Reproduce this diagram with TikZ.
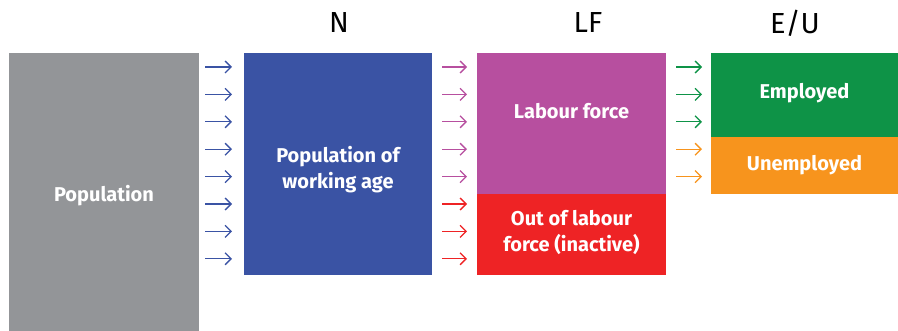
\documentclass[tikz,border=0pt]{standalone}
\usepackage{fontspec}
\setmainfont{Fira Sans}
\usetikzlibrary{arrows.meta}

\definecolor{popgray}{HTML}{939598}
\definecolor{wablue}{HTML}{3A53A4}
\definecolor{lfpurple}{HTML}{B74F9F}
\definecolor{inred}{HTML}{EE2325}
\definecolor{empgreen}{HTML}{0E9347}
\definecolor{unorange}{HTML}{F7941D}

\tikzset{
  box/.style={inner sep=0pt, outer sep=0pt},
  boxtext/.style={text=white, font=\fontsize{20}{26}\selectfont\bfseries, align=center},
  head/.style={font=\fontsize{29}{32}\selectfont},
  flow/.style={line width=1.3pt, -{Straight Barb[length=6pt,width=12pt]}}
}

\begin{document}
\begin{tikzpicture}[x=1pt,y=-1pt]
                \useasboundingbox (0,0) rectangle (898,331);%

                % Drawing box Population
                \node [box, fill=popgray, minimum width=190pt, minimum height=278pt] (pop) at (104,192) {};%
                \node [boxtext] at ([yshift=-4pt]pop.center) {Population};%

                % Drawing box working age
                \node [box, fill=wablue, minimum width=188pt, minimum height=222pt] (wa) at (338,164) {};%
                \node [boxtext] at ([yshift=-6pt]wa.center) {Population of\\working age};%

                % Drawing boxes labour force and inactive
                \node [box, fill=lfpurple, minimum width=189pt, minimum height=141pt] (lf) at (571.5,123.5) {};%
                \node [boxtext] at ([yshift=12pt]lf.center) {Labour force};%
                \node [box, fill=inred, minimum width=189pt, minimum height=81pt, anchor=north] (ina) at (lf.south) {};%
                \node [boxtext] at ([yshift=2pt]ina.center) {Out of labour\\force (inactive)};%

                % Drawing boxes employed and unemployed
                \node [box, fill=empgreen, minimum width=187pt, minimum height=84pt] (emp) at (804.5,95) {};%
                \node [boxtext] at ([yshift=2pt]emp.center) {Employed};%
                \node [box, fill=unorange, minimum width=187pt, minimum height=57pt, anchor=north] (unemp) at (emp.south) {};%
                \node [boxtext] at (unemp.center) {Unemployed};%

                % Marking columns N, LF and E/U
                \node [head] (hn) at (339,23) {N};%
                \node [head] (hlf) at (588,23) {LF};%
                \node [head] (heu) at (795,23) {E/U};%

                % Drawing arrows between columns
                \foreach \i in {0,...,7} {
                  \pgfmathsetmacro{\ya}{67+27.4*\i}
                  \draw [flow, wablue, shorten <=6pt, shorten >=12pt] (pop.east |- 0,\ya) -- (wa.west |- 0,\ya);%
                  \ifnum\i<5
                    \draw [flow, lfpurple, shorten <=10pt, shorten >=10pt] (wa.east |- 0,\ya) -- (lf.west |- 0,\ya);%
                  \else
                    \draw [flow, inred, shorten <=10pt, shorten >=10pt] (wa.east |- 0,\ya) -- (lf.west |- 0,\ya);%
                  \fi
                }
                \foreach \i in {0,1,2} {
                  \pgfmathsetmacro{\ya}{67+27.4*\i}
                  \draw [flow, empgreen, shorten <=10pt, shorten >=9pt] (lf.east |- 0,\ya) -- (emp.west |- 0,\ya);%
                }
                \foreach \i in {3,4} {
                  \pgfmathsetmacro{\ya}{67+27.4*\i}
                  \draw [flow, unorange, shorten <=10pt, shorten >=9pt] (lf.east |- 0,\ya) -- (emp.west |- 0,\ya);%
                }
\end{tikzpicture}
\end{document}
